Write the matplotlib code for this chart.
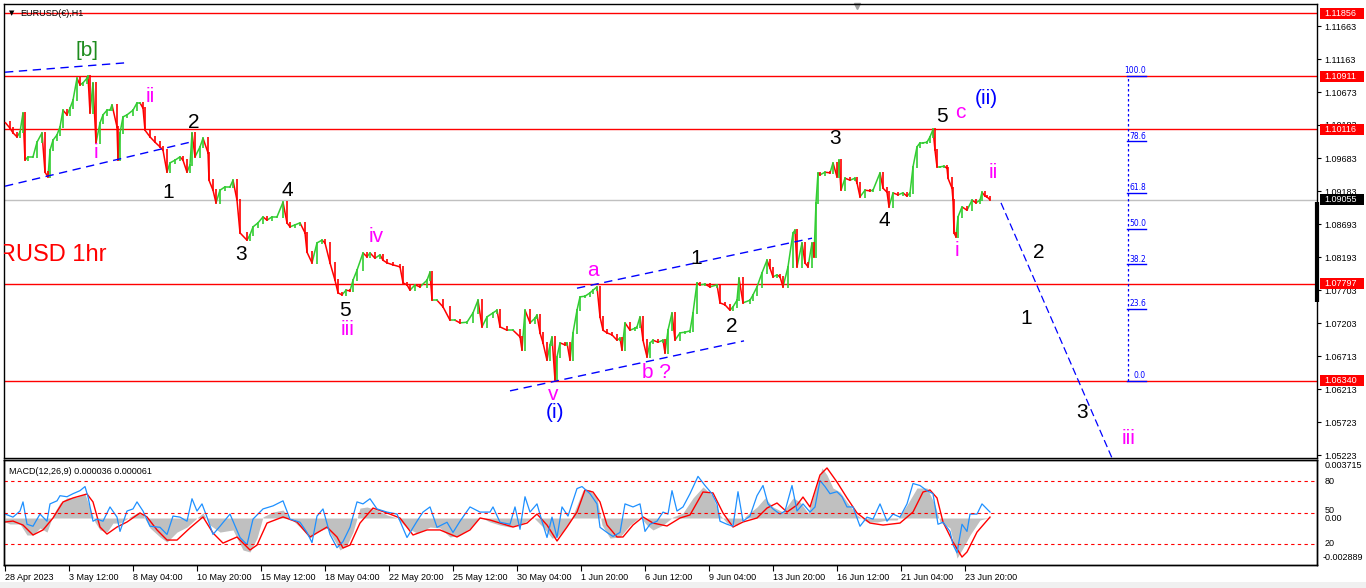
import numpy as np
import matplotlib
matplotlib.use("Agg")
import matplotlib.pyplot as plt
from matplotlib.collections import LineCollection
from matplotlib.patches import Rectangle
from matplotlib.transforms import blended_transform_factory

plt.rcParams['font.family'] = ['Liberation Sans', 'DejaVu Sans']

# EURUSD H1, close every few bars: (bar index, close)
price_path = [
    (0, 1.1022), (5, 1.1013), (8, 1.1006), (12, 1.1000), (15, 1.1007), (18, 1.1036), (20, 1.0965), (23, 1.0970),
    (28, 1.0970), (32, 1.0992), (37, 1.1006), (40, 1.0947), (43, 1.0940), (45, 1.0980), (48, 1.0995), (52, 1.1003),
    (55, 1.1015), (58, 1.1040), (62, 1.1033), (65, 1.1043), (68, 1.1055), (72, 1.1088), (75, 1.1078), (78, 1.1081),
    (82, 1.1088), (83, 1.1091), (85, 1.1036), (88, 1.1081), (91, 1.0991), (95, 1.1021), (98, 1.1033), (102, 1.1040),
    (105, 1.1040), (107, 1.1048), (112, 1.1015), (113, 1.0965), (115, 1.1006), (118, 1.1030), (122, 1.1033),
    (128, 1.1040), (132, 1.1051), (135, 1.1051), (138, 1.1043), (140, 1.1010), (145, 1.1000), (150, 1.0992),
    (155, 1.0985), (158, 1.0980), (162, 1.0947), (165, 1.0961), (170, 1.0965), (175, 1.0970), (178, 1.0965),
    (182, 1.0947), (185, 1.0958), (187, 1.1006), (190, 1.0970), (195, 1.0985), (198, 1.0998), (203, 1.0976),
    (204, 1.0935), (208, 1.0920), (211, 1.0901), (215, 1.0920), (220, 1.0925), (225, 1.0925), (228, 1.0935),
    (232, 1.0905), (235, 1.0856), (242, 1.0845), (245, 1.0853), (248, 1.0865), (253, 1.0871), (258, 1.0880),
    (262, 1.0875), (267, 1.0880), (272, 1.0880), (278, 1.0902), (282, 1.0871), (285, 1.0865), (290, 1.0868),
    (295, 1.0871), (300, 1.0856), (302, 1.0827), (307, 1.0811), (312, 1.0841), (317, 1.0845), (320, 1.0841),
    (325, 1.0811), (330, 1.0785), (333, 1.0766), (337, 1.0763), (341, 1.0770), (345, 1.0769), (348, 1.0785),
    (352, 1.0800), (358, 1.0826), (362, 1.0820), (365, 1.0826), (370, 1.0818), (375, 1.0823), (378, 1.0815),
    (382, 1.0811), (388, 1.0808), (395, 1.0805), (398, 1.0781), (402, 1.0778), (405, 1.0770), (410, 1.0778),
    (415, 1.0775), (422, 1.0785), (425, 1.0797), (427, 1.0755), (432, 1.0755), (438, 1.0745), (445, 1.0725),
    (450, 1.0725), (455, 1.0721), (462, 1.0722), (468, 1.0736), (473, 1.0755), (477, 1.0715), (482, 1.0730),
    (488, 1.0736), (492, 1.0740), (495, 1.0715), (502, 1.0710), (508, 1.0710), (515, 1.0700), (517, 1.0680),
    (520, 1.0740), (525, 1.0721), (530, 1.0728), (532, 1.0733), (535, 1.0706), (538, 1.0691), (542, 1.0665),
    (545, 1.0688), (547, 1.0700), (550, 1.0635), (552, 1.0670), (555, 1.0691), (560, 1.0688), (562, 1.0691),
    (565, 1.0665), (568, 1.0706), (572, 1.0740), (575, 1.0760), (580, 1.0761), (585, 1.0766), (588, 1.0770),
    (592, 1.0775), (595, 1.0730), (598, 1.0710), (602, 1.0706), (607, 1.0703), (612, 1.0695), (615, 1.0698),
    (617, 1.0680), (620, 1.0721), (625, 1.0710), (630, 1.0713), (632, 1.0715), (635, 1.0730), (638, 1.0695),
    (642, 1.0670), (645, 1.0691), (648, 1.0695), (653, 1.0692), (658, 1.0695), (660, 1.0676), (663, 1.0710),
    (667, 1.0736), (670, 1.0695), (675, 1.0706), (680, 1.0707), (685, 1.0709), (688, 1.0736), (692, 1.0781),
    (695, 1.0778), (700, 1.0779), (705, 1.0775), (712, 1.0778), (715, 1.0751), (720, 1.0748), (725, 1.0740),
    (728, 1.0745), (732, 1.0755), (734, 1.0788), (738, 1.0751), (745, 1.0755), (748, 1.0763), (752, 1.0775),
    (757, 1.0796), (762, 1.0815), (765, 1.0803), (768, 1.0790), (772, 1.0793), (775, 1.0790), (778, 1.0775),
    (783, 1.0805), (788, 1.0856), (790, 1.0860), (792, 1.0805), (797, 1.0841), (800, 1.0811), (803, 1.0805),
    (807, 1.0841), (809, 1.0820), (811, 1.0901), (813, 1.0946), (815, 1.0943), (820, 1.0947), (825, 1.0946),
    (828, 1.0961), (832, 1.0940), (834, 1.0965), (836, 1.0920), (840, 1.0938), (845, 1.0935), (850, 1.0938),
    (852, 1.0931), (855, 1.0910), (860, 1.0920), (865, 1.0919), (868, 1.0920), (875, 1.0946), (878, 1.0923),
    (882, 1.0917), (884, 1.0895), (888, 1.0916), (893, 1.0913), (898, 1.0916), (902, 1.0911), (905, 1.0916),
    (908, 1.0955), (912, 1.0985), (915, 1.0991), (918, 1.0991), (922, 1.0992), (925, 1.1000), (928, 1.1011),
    (930, 1.0980), (932, 1.0955), (935, 1.0955), (939, 1.0956), (942, 1.0953), (943, 1.0938), (947, 1.0923),
    (948, 1.0905), (949, 1.0856), (951, 1.0850), (953, 1.0880), (957, 1.0895), (962, 1.0890), (967, 1.0905),
    (971, 1.0901), (975, 1.0905), (977, 1.0917), (980, 1.0911), (982, 1.0910), (985, 1.09055),
]

# MACD(12,26,9) main (histogram) and signal, (bar, value)
macd_main = [
    (0, -0.00026), (5, -0.00039), (15, -0.00039), (22, -0.00111), (28, -0.00111), (35, -0.00065), (42, -0.00092),
    (48, 0.00020), (55, 0.00098), (62, 0.00131), (72, 0.00137), (80, 0.00157), (85, 0.00065), (90, -0.00026),
    (95, -0.00078), (102, -0.00092), (108, -0.00033), (115, -0.00033), (125, 0.00007), (132, 0.00033),
    (138, 0.00020), (145, -0.00065), (155, -0.00124), (162, -0.00157), (172, -0.00092), (182, -0.00059),
    (192, 0.0), (198, 0.00033), (205, -0.00046), (215, -0.00092), (228, -0.00078), (238, -0.00209),
    (245, -0.00222), (252, -0.00131), (258, 0.00007), (268, 0.00039), (278, 0.00052), (285, 0.0),
    (295, -0.00059), (305, -0.00131), (312, -0.00092), (322, -0.00065), (328, -0.00131), (335, -0.00209),
    (342, -0.00177), (348, -0.00092), (355, 0.00065), (362, 0.00072), (372, 0.00052), (382, 0.00020),
    (392, 0.0), (402, -0.00065), (412, -0.00098), (425, -0.00059), (435, -0.00065), (445, -0.00124),
    (455, -0.00111), (465, -0.00065), (475, 0.00007), (485, -0.00026), (495, -0.00046), (505, -0.00059),
    (518, -0.00033), (528, 0.00007), (538, -0.00059), (547, -0.00131), (552, -0.00124), (557, -0.00092),
    (565, -0.00026), (572, 0.00085), (578, 0.00183), (585, 0.00183), (592, 0.00131), (597, -0.00046),
    (605, -0.00131), (615, -0.00124), (625, -0.00046), (635, 0.00007), (642, -0.00046), (648, -0.00078),
    (658, -0.00046), (668, 0.00007), (678, 0.00033), (688, 0.00131), (698, 0.00203), (707, 0.00150),
    (715, 0.00020), (722, -0.00033), (732, -0.00046), (742, 0.00020), (752, 0.00072), (760, 0.00131),
    (768, 0.00072), (778, 0.00039), (788, 0.00131), (795, 0.00105), (803, 0.00033), (812, 0.00216),
    (817, 0.00327), (822, 0.00281), (828, 0.00196), (835, 0.00170), (842, 0.00105), (852, 0.00020),
    (862, -0.00026), (872, -0.00026), (882, -0.00013), (892, -0.00013), (902, 0.00085), (912, 0.00196),
    (922, 0.00196), (930, 0.00085), (935, -0.00026), (945, -0.00065), (952, -0.00262), (958, -0.00196),
    (965, -0.00111), (975, -0.00013), (985, 0.000036),
]

macd_signal = [
    (0, -0.00026), (8, -0.00020), (18, -0.00046), (28, -0.00111), (38, -0.00078), (48, 0.0), (58, 0.00105),
    (68, 0.00131), (82, 0.00157), (88, 0.00105), (95, -0.00059), (102, -0.00105), (112, -0.00059),
    (122, -0.00026), (135, 0.00033), (142, 0.00007), (152, -0.00078), (162, -0.00144), (172, -0.00144),
    (185, -0.00065), (198, 0.00007), (208, -0.00098), (218, -0.00164), (232, -0.00124), (245, -0.00209),
    (252, -0.00177), (262, -0.00033), (278, 0.00007), (292, -0.00026), (305, -0.00124), (322, -0.00059),
    (332, -0.00124), (338, -0.00196), (345, -0.00177), (355, -0.00033), (368, 0.00065), (382, 0.00033),
    (395, 0.0), (408, -0.00111), (422, -0.00078), (435, -0.00078), (452, -0.00124), (465, -0.00078),
    (475, 0.0), (485, -0.00013), (498, -0.00039), (508, -0.00059), (522, -0.00033), (532, 0.00026),
    (542, -0.00046), (552, -0.00150), (562, -0.00059), (572, 0.00039), (580, 0.00183), (588, 0.00170),
    (595, 0.00105), (602, -0.00046), (612, -0.00124), (618, -0.00124), (628, -0.00046), (638, 0.00007),
    (648, -0.00033), (662, -0.00052), (675, 0.0), (685, 0.00020), (698, 0.00170), (708, 0.00164),
    (718, 0.00033), (728, -0.00059), (738, -0.00026), (752, 0.0), (762, 0.00065), (772, 0.00098),
    (782, 0.00039), (792, 0.00085), (798, 0.00137), (805, 0.00072), (815, 0.00281), (822, 0.00327),
    (832, 0.00235), (842, 0.00131), (852, 0.00033), (865, -0.00033), (878, -0.00046), (895, -0.00033),
    (908, 0.00039), (918, 0.00170), (925, 0.00183), (932, 0.00131), (938, -0.00026), (948, -0.00157),
    (957, -0.00255), (962, -0.00222), (972, -0.00092), (985, 0.000061),
]

# oscillator drawn in blue over the MACD window (0..100 scale)
osc_line = [
    (0, 48.5), (8, 45.6), (15, 51.4), (18, 60.1), (22, 38.8), (28, 36.9), (35, 48.5), (42, 41.7), (45, 58.2),
    (52, 61.1), (55, 66.0), (62, 65.0), (68, 67.9), (75, 70.8), (80, 74.7), (83, 65.0), (88, 41.7), (92, 43.7),
    (98, 41.7), (105, 55.3), (112, 45.6), (115, 32.0), (122, 51.4), (128, 53.4), (132, 60.1), (138, 51.4),
    (145, 36.9), (155, 35.9), (162, 29.1), (168, 46.6), (175, 45.6), (182, 41.7), (187, 63.1), (192, 51.4),
    (197, 58.2), (202, 45.6), (208, 29.1), (215, 36.9), (225, 48.5), (235, 26.2), (242, 19.4), (248, 43.7),
    (258, 53.4), (268, 56.3), (278, 61.1), (285, 43.7), (295, 40.7), (302, 31.0), (307, 21.3), (312, 46.6),
    (318, 53.4), (325, 29.1), (332, 16.5), (338, 22.3), (345, 35.9), (352, 60.1), (358, 58.2), (365, 63.1),
    (372, 53.4), (382, 50.4), (392, 48.5), (402, 26.2), (412, 41.7), (418, 50.4), (425, 55.3), (432, 35.9),
    (442, 40.7), (448, 31.0), (455, 41.7), (465, 55.3), (475, 50.4), (485, 50.4), (488, 55.3), (495, 40.7),
    (505, 38.8), (510, 55.3), (515, 34.0), (520, 65.0), (525, 50.4), (532, 58.2), (537, 41.7), (542, 26.2),
    (547, 45.6), (552, 26.2), (557, 55.3), (563, 46.6), (567, 58.2), (572, 72.8), (577, 74.7), (585, 67.9),
    (592, 58.2), (595, 35.9), (602, 31.0), (608, 27.2), (615, 31.0), (620, 58.2), (628, 55.3), (635, 58.2),
    (640, 32.0), (645, 38.8), (652, 41.7), (658, 50.4), (663, 48.5), (667, 70.8), (672, 51.4), (678, 55.3),
    (685, 67.9), (693, 84.4), (700, 75.7), (707, 67.9), (712, 58.2), (715, 41.7), (722, 38.8), (728, 36.9),
    (733, 69.8), (738, 41.7), (745, 46.6), (752, 66.0), (758, 75.7), (763, 58.2), (768, 53.4), (775, 48.5),
    (780, 51.4), (787, 75.7), (792, 51.4), (798, 58.2), (805, 50.4), (810, 55.3), (815, 80.5), (820, 74.7),
    (825, 67.9), (832, 69.8), (837, 65.0), (842, 55.3), (848, 55.3), (855, 36.9), (862, 45.6), (868, 43.7),
    (875, 58.2), (882, 41.7), (888, 48.5), (895, 45.6), (902, 58.2), (908, 77.6), (915, 75.7), (922, 70.8),
    (928, 67.9), (933, 38.8), (938, 40.7), (945, 32.0), (948, 19.4), (952, 11.6), (957, 38.8), (962, 32.0),
    (965, 48.5), (972, 48.5), (977, 58.2), (982, 53.4), (985, 50.4),
]

date_labels = ["28 Apr 2023", "3 May 12:00", "8 May 04:00", "10 May 20:00", "15 May 12:00", "18 May 04:00",
               "22 May 20:00", "25 May 12:00", "30 May 04:00", "1 Jun 20:00", "6 Jun 12:00", "9 Jun 04:00",
               "13 Jun 20:00", "16 Jun 12:00", "21 Jun 04:00", "23 Jun 20:00"]
price_ticks = [1.11663, 1.11163, 1.10673, 1.10183, 1.09683, 1.09183, 1.08693, 1.08193,
               1.07703, 1.07203, 1.06713, 1.06213, 1.05723, 1.05223]
red_levels = [1.11856, 1.10911, 1.10116, 1.07797, 1.06340]
last_price = 1.09055
fib_low, fib_high = 1.06340, 1.10911
fib_ratios = [0.0, 23.6, 38.2, 50.0, 61.8, 78.6, 100.0]
osc_levels = [80, 50, 20]

# wave counts: (text, bar, price, colour)
MAG = "#FF00FF"
BLK = "#000000"
BLU = "#0000FF"
wave_labels = [
    ("[b]", 82, 1.1130, "#1E8C1E"), ("ii", 145, 1.1061, MAG), ("i", 91, 1.0976, MAG),
    ("2", 189, 1.1022, BLK), ("1", 163, 1.0917, BLK), ("4", 282, 1.0920, BLK), ("3", 236, 1.0823, BLK),
    ("5", 340, 1.0739, BLK), ("iii", 343, 1.0711, MAG), ("iv", 371, 1.0850, MAG), ("a", 588, 1.0799, MAG),
    ("v", 548, 1.0614, MAG), ("(i)", 550, 1.0587, BLU), ("b ?", 651, 1.0647, MAG),
    ("1", 691, 1.0817, BLK), ("2", 727, 1.0715, BLK), ("3", 830, 1.0998, BLK), ("4", 879, 1.0874, BLK),
    ("5", 937, 1.1030, BLK), ("c", 955, 1.1036, MAG), ("(ii)", 981, 1.1057, BLU),
    ("i", 952, 1.0829, MAG), ("ii", 988, 1.0947, MAG),
    ("2", 1034, 1.0827, BLK), ("1", 1021, 1.0727, BLK), ("3", 1077, 1.0587, BLK), ("iii", 1124, 1.0547, MAG),
]

# dashed trend lines: ((bar0, price0), (bar1, price1))
trend_lines = [
    ((0, 1.1097), (120, 1.1111)),
    ((0, 1.0926), (185, 1.0992)),
    ((572, 1.0773), (807, 1.0848)),
    ((505, 1.0619), (739, 1.0694)),
]
projection = ((996, 1.0901), (1110, 1.0508))
fib_bar = 1123

W, H = 1366, 588
fig = plt.figure(figsize=(W / 100, H / 100), dpi=100)
fig.patch.set_facecolor("white")


def px_rect(l, t, r, b):
    return [l / W, 1 - b / H, (r - l) / W, (b - t) / H]


ax = fig.add_axes(px_rect(4, 4, 1317, 458))
axm = fig.add_axes(px_rect(4, 460, 1317, 565))
axs = axm.twinx()

xlim = (-1, 1312)
ax.set_xlim(*xlim)
ax.set_ylim(1.05183, 1.11993)

# bars (close to close) with a little wick so it reads like H1 candles
pb = np.array([p[0] for p in price_path])
pc = np.array([p[1] for p in price_path])
up = pc[1:] >= pc[:-1]
cols = np.where(up, "#32CD32", "#FF0000")
segs = [[(pb[i - 1], pc[i - 1]), (pb[i], pc[i])] for i in range(1, len(pb))]
ax.add_collection(LineCollection(segs, colors=cols, linewidths=1.1, zorder=3))
wick = 0.00018
lo = np.minimum(pc[1:], pc[:-1]) - wick
hi = np.maximum(pc[1:], pc[:-1]) + wick
ax.vlines(pb[1:], lo, hi, colors=cols, linewidth=1.2, zorder=3)

for lv in red_levels:
    ax.axhline(lv, color="#FF0000", lw=1, zorder=2)
ax.axhline(last_price, color="#C0C0C0", lw=1, zorder=1)

for (x0, y0), (x1, y1) in trend_lines:
    ax.plot([x0, x1], [y0, y1], color="#0000FF", lw=1, ls=(0, (6, 4)), zorder=4)
(x0, y0), (x1, y1) = projection
ax.plot([x0, x1], [y0, y1], color="#0000FF", lw=0.9, ls=(0, (6, 3)), zorder=4)

# fibonacci retracement
ax.plot([fib_bar, fib_bar], [fib_low, fib_high], color="#0000FF", lw=0.9, ls=(0, (2, 2)), zorder=4)
for r in fib_ratios:
    lv = fib_low + r / 100 * (fib_high - fib_low)
    ax.plot([fib_bar - 1, fib_bar + 18], [lv, lv], color="#0000FF", lw=1, zorder=4)
    ax.text(fib_bar + 18, lv + 0.0001, f"{r:.1f}", color="#0000FF", fontsize=5.5, ha="right",
            va="bottom", family=["DejaVu Sans"], zorder=5)

for txt, b, p, c in wave_labels:
    ax.text(b, p, txt, color=c, fontsize=15, ha="center", va="center", zorder=6)

ax.text(-39, 1.0823, "EURUSD 1hr", color="#FF0000", fontsize=17, ha="left", va="center", clip_on=True, zorder=6)

# price scale
ax.set_xticks([])
ax.yaxis.tick_right()
ax.set_yticks(price_ticks)
ax.set_yticklabels([f"{v:.5f}" for v in price_ticks])
ax.tick_params(axis="y", length=3, width=0.8, labelsize=6.5, pad=2, direction="out")
for s in ax.spines.values():
    s.set_linewidth(1)

trans = blended_transform_factory(ax.transAxes, ax.transData)
ax.plot([1.0, 1.0], [1.0902, 1.0752], transform=trans, color="black", lw=3, solid_capstyle="butt",
        clip_on=False, zorder=7)
ax.plot([0.65], [0.995], transform=ax.transAxes, marker="v", color="#A0A0A0", ms=5, clip_on=False)

for lv, fc in [(v, "#FF0000") for v in red_levels] + [(last_price, "#000000")]:
    yd = ax.transData.transform((0, lv))[1]
    fig.patches.append(Rectangle((1320 / W, (yd - 5.5) / H), 44 / W, 11 / H, transform=fig.transFigure,
                                 facecolor=fc, edgecolor="none", zorder=8))
    fig.text(1324 / W, yd / H, f"{lv:.5f}", color="white", fontsize=6.5, va="center", ha="left", zorder=9)

fig.text(9 / W, 1 - 13 / H, "▼", fontsize=5, va="center", ha="left", family=["DejaVu Sans"])
fig.text(20 / W, 1 - 13 / H, "EURUSD(€),H1", fontsize=6.5, va="center", ha="left")

# MACD window
axm.set_xlim(*xlim)
axs.set_xlim(*xlim)
axm.set_ylim(-0.00307, 0.00379)
axs.set_ylim(0, 100)
hb = [p[0] for p in macd_main]
hv = [p[1] for p in macd_main]
axm.fill_between(hb, hv, 0, color="#C0C0C0", lw=0)
axm.plot([p[0] for p in macd_signal], [p[1] for p in macd_signal], color="#FF0000", lw=1)
axs.plot([p[0] for p in osc_line], [p[1] for p in osc_line], color="#1E90FF", lw=0.9)
for lv in osc_levels:
    axs.axhline(lv, color="#FF0000", lw=0.8, ls=(0, (3, 3)))

axm.set_yticks([])
axs.set_yticks([])
axm.set_xticks([i * 64 for i in range(len(date_labels))])
axm.set_xticklabels(date_labels, ha="left")
axm.tick_params(axis="x", length=4, width=0.8, labelsize=6.5, pad=2, direction="out")
axs.tick_params(axis="x", length=0)
for s in list(axm.spines.values()) + list(axs.spines.values()):
    s.set_linewidth(1)

tm = blended_transform_factory(axm.transAxes, axm.transData)
ts = blended_transform_factory(axs.transAxes, axs.transData)
axm.text(1.006, 0.003715, "0.003715", transform=tm, fontsize=6.5, va="top", ha="left", clip_on=False)
axm.text(1.006, 0.0, "0.00", transform=tm, fontsize=6.5, va="center", ha="left", clip_on=False)
axm.text(1.004, -0.002889, "-0.002889", transform=tm, fontsize=6.5, va="bottom", ha="left", clip_on=False)
for lv in osc_levels:
    axs.text(1.006, lv + (2 if lv == 50 else 0), str(lv), transform=ts, fontsize=6.5, va="center",
             ha="left", clip_on=False)
axm.text(0.004, 0.93, "MACD(12,26,9) 0.000036 0.000061", transform=axm.transAxes, fontsize=6.5,
         va="top", ha="left")

fig.patches.append(Rectangle((0, 0), 1, 6 / H, transform=fig.transFigure, facecolor="#F0F0F0",
                             edgecolor="none"))

fig.savefig("out.png", dpi=100)
